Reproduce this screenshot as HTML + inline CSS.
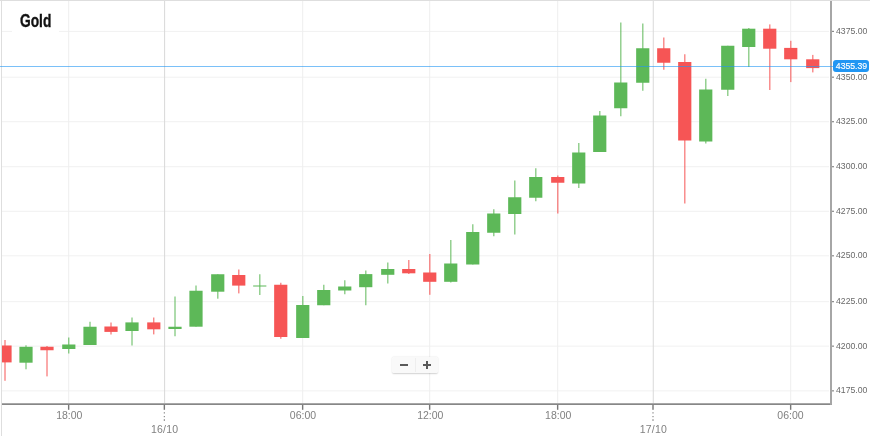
<!DOCTYPE html>
<html><head><meta charset="utf-8"><title>Gold</title>
<style>
html,body{margin:0;padding:0;background:#fff;}
body{width:874px;height:436px;position:relative;overflow:hidden;font-family:"Liberation Sans",sans-serif;}
#chart{position:absolute;left:0;top:0;width:874px;height:436px;}
.bt{position:absolute;left:0;top:0;width:870px;height:1px;background:#dedede;}
.bl{position:absolute;left:1px;top:0;width:1px;height:436px;background:#dedede;}
.ya{position:absolute;left:830px;top:1px;width:2px;height:404px;background:#a6a6a6;}
.xa{position:absolute;left:2px;top:403.4px;width:830px;height:1.6px;background:#7c7c7c;}
.yl{position:absolute;left:836px;width:36px;height:12px;line-height:12px;font-size:8.7px;color:#6a6a6a;white-space:nowrap;}
.yt{position:absolute;left:832px;width:2px;height:1.2px;background:#8a8a8a;}
.xl{position:absolute;width:40px;text-align:center;height:12px;line-height:12px;font-size:10.5px;color:#808080;white-space:nowrap;}
.xt{position:absolute;top:405px;width:1.4px;height:4.5px;background:#777;}
.xd{position:absolute;width:1.2px;background:#8c8c8c;}
.title{position:absolute;left:12px;top:8px;width:47px;height:25px;background:#fff;}
.title span{position:absolute;left:8px;top:2px;font-size:18px;line-height:22px;font-weight:bold;color:#111;-webkit-text-stroke:0.35px #111;transform-origin:0 0;transform:scaleX(0.765);white-space:nowrap;}
.pl{position:absolute;left:0;top:66px;width:834px;height:1px;background:rgba(33,150,243,0.6);}
.pb{position:absolute;left:833px;top:60px;width:36px;height:12.2px;border-radius:3px;background:#2196f3;color:#fff;font-size:8.7px;line-height:12px;text-indent:2.8px;white-space:nowrap;-webkit-text-stroke:0.15px #fff;}
.zb{position:absolute;left:392px;top:357px;width:46px;height:16px;border-radius:2px;background:rgba(248,248,248,0.9);box-shadow:0 0.5px 1.5px rgba(0,0,0,0.18);}
.zb i{position:absolute;background:#5a5a5a;}
</style></head><body>
<svg id="chart" width="874" height="436" viewBox="0 0 874 436">
<rect x="2" y="30.9" width="827" height="1" fill="#f1f1f1"/>
<rect x="2" y="76.7" width="827" height="1" fill="#f1f1f1"/>
<rect x="2" y="121.2" width="827" height="1" fill="#f1f1f1"/>
<rect x="2" y="166.2" width="827" height="1" fill="#f1f1f1"/>
<rect x="2" y="210.8" width="827" height="1" fill="#f1f1f1"/>
<rect x="2" y="255.3" width="827" height="1" fill="#f1f1f1"/>
<rect x="2" y="301.15" width="827" height="1" fill="#f1f1f1"/>
<rect x="2" y="345.65" width="827" height="1" fill="#f1f1f1"/>
<rect x="2" y="390.35" width="827" height="1" fill="#f1f1f1"/>
<rect x="68.2" y="1" width="1" height="402" fill="#eeeeee"/>
<rect x="302.2" y="1" width="1" height="402" fill="#eeeeee"/>
<rect x="429.2" y="1" width="1" height="402" fill="#eeeeee"/>
<rect x="557.2" y="1" width="1" height="402" fill="#eeeeee"/>
<rect x="790.2" y="1" width="1" height="402" fill="#eeeeee"/>
<rect x="164.1" y="1" width="1" height="402" fill="#d9d9d9"/>
<rect x="652.75" y="1" width="1" height="402" fill="#d9d9d9"/>
<line x1="5" y1="340" x2="5" y2="380.8" stroke="#f65555" stroke-width="1"/>
<rect x="2" y="345.5" width="9.6" height="16.9" fill="#f65555"/>
<line x1="26" y1="345.3" x2="26" y2="369.3" stroke="#5db858" stroke-width="1"/>
<rect x="19.4" y="346.8" width="13.2" height="15.9" fill="#5db858"/>
<line x1="47" y1="346" x2="47" y2="376.4" stroke="#f65555" stroke-width="1"/>
<rect x="40.4" y="346.75" width="13.2" height="3.5" fill="#f65555"/>
<line x1="68.8" y1="337.5" x2="68.8" y2="353.5" stroke="#5db858" stroke-width="1"/>
<rect x="62.2" y="344.5" width="13.2" height="4.5" fill="#5db858"/>
<line x1="90" y1="321.75" x2="90" y2="345" stroke="#5db858" stroke-width="1"/>
<rect x="83.4" y="326.75" width="13.2" height="18.25" fill="#5db858"/>
<line x1="111" y1="322.5" x2="111" y2="334.5" stroke="#f65555" stroke-width="1"/>
<rect x="104.4" y="326.5" width="13.2" height="5.4" fill="#f65555"/>
<line x1="132" y1="317.5" x2="132" y2="345.5" stroke="#5db858" stroke-width="1"/>
<rect x="125.4" y="322.4" width="13.2" height="8.6" fill="#5db858"/>
<line x1="153.8" y1="317.5" x2="153.8" y2="334.4" stroke="#f65555" stroke-width="1"/>
<rect x="147.2" y="322.4" width="13.2" height="6.9" fill="#f65555"/>
<line x1="175" y1="296.5" x2="175" y2="336.25" stroke="#5db858" stroke-width="1"/>
<rect x="168.4" y="326.75" width="13.2" height="2.25" fill="#5db858"/>
<line x1="196" y1="285.5" x2="196" y2="326.7" stroke="#5db858" stroke-width="1"/>
<rect x="189.4" y="290.75" width="13.2" height="35.95" fill="#5db858"/>
<line x1="217.85" y1="274.25" x2="217.85" y2="298.7" stroke="#5db858" stroke-width="1"/>
<rect x="211.15" y="274.25" width="13.2" height="17.45" fill="#5db858"/>
<line x1="238.85" y1="269.5" x2="238.85" y2="293.4" stroke="#f65555" stroke-width="1"/>
<rect x="232.15" y="275" width="13.2" height="10.6" fill="#f65555"/>
<line x1="259.85" y1="274.25" x2="259.85" y2="295" stroke="#5db858" stroke-width="1"/>
<rect x="253.15" y="285.5" width="13.2" height="1.0" fill="#5db858"/>
<line x1="280.85" y1="282.75" x2="280.85" y2="338.75" stroke="#f65555" stroke-width="1"/>
<rect x="274.15" y="284.75" width="13.2" height="52.25" fill="#f65555"/>
<line x1="302.85" y1="296" x2="302.85" y2="338" stroke="#5db858" stroke-width="1"/>
<rect x="296.15" y="305" width="13.2" height="33" fill="#5db858"/>
<line x1="323.85" y1="284.75" x2="323.85" y2="305.25" stroke="#5db858" stroke-width="1"/>
<rect x="317.15" y="290" width="13.2" height="15.25" fill="#5db858"/>
<line x1="344.85" y1="280.25" x2="344.85" y2="294.25" stroke="#5db858" stroke-width="1"/>
<rect x="338.15" y="286.5" width="13.2" height="4.0" fill="#5db858"/>
<line x1="365.85" y1="270.5" x2="365.85" y2="305.25" stroke="#5db858" stroke-width="1"/>
<rect x="359.15" y="274.1" width="13.2" height="13.1" fill="#5db858"/>
<line x1="387.85" y1="262.5" x2="387.85" y2="283.5" stroke="#5db858" stroke-width="1"/>
<rect x="381.15" y="269" width="13.2" height="5.8" fill="#5db858"/>
<line x1="408.85" y1="260" x2="408.85" y2="274" stroke="#f65555" stroke-width="1"/>
<rect x="402.15" y="269" width="13.2" height="4.3" fill="#f65555"/>
<line x1="429.85" y1="254" x2="429.85" y2="294.8" stroke="#f65555" stroke-width="1"/>
<rect x="423.15" y="272.5" width="13.2" height="9.3" fill="#f65555"/>
<line x1="450.85" y1="240" x2="450.85" y2="282.5" stroke="#5db858" stroke-width="1"/>
<rect x="444.15" y="263.5" width="13.2" height="18.3" fill="#5db858"/>
<line x1="472.85" y1="224.25" x2="472.85" y2="264.5" stroke="#5db858" stroke-width="1"/>
<rect x="466.15" y="232" width="13.2" height="32.5" fill="#5db858"/>
<line x1="493.85" y1="209.25" x2="493.85" y2="236.25" stroke="#5db858" stroke-width="1"/>
<rect x="487.15" y="213.5" width="13.2" height="19.25" fill="#5db858"/>
<line x1="514.85" y1="180.5" x2="514.85" y2="234.5" stroke="#5db858" stroke-width="1"/>
<rect x="508.15" y="197.25" width="13.2" height="16.75" fill="#5db858"/>
<line x1="535.85" y1="168.25" x2="535.85" y2="201.25" stroke="#5db858" stroke-width="1"/>
<rect x="529.15" y="177" width="13.2" height="20.75" fill="#5db858"/>
<line x1="557.85" y1="175.5" x2="557.85" y2="213.5" stroke="#f65555" stroke-width="1"/>
<rect x="551.15" y="177" width="13.2" height="5.75" fill="#f65555"/>
<line x1="578.85" y1="143" x2="578.85" y2="188" stroke="#5db858" stroke-width="1"/>
<rect x="572.15" y="152.5" width="13.2" height="31.0" fill="#5db858"/>
<line x1="599.85" y1="111" x2="599.85" y2="152" stroke="#5db858" stroke-width="1"/>
<rect x="593.15" y="115.5" width="13.2" height="36.5" fill="#5db858"/>
<line x1="620.85" y1="22.5" x2="620.85" y2="116.25" stroke="#5db858" stroke-width="1"/>
<rect x="614.15" y="82.5" width="13.2" height="25.75" fill="#5db858"/>
<line x1="642.85" y1="23.5" x2="642.85" y2="90.75" stroke="#5db858" stroke-width="1"/>
<rect x="636.15" y="48.25" width="13.2" height="34.5" fill="#5db858"/>
<line x1="663.85" y1="37.5" x2="663.85" y2="69.75" stroke="#f65555" stroke-width="1"/>
<rect x="657.15" y="48.25" width="13.2" height="14.5" fill="#f65555"/>
<line x1="684.85" y1="54.25" x2="684.85" y2="203.5" stroke="#f65555" stroke-width="1"/>
<rect x="678.15" y="62" width="13.2" height="78.5" fill="#f65555"/>
<line x1="705.85" y1="78.75" x2="705.85" y2="143.5" stroke="#5db858" stroke-width="1"/>
<rect x="699.15" y="89.5" width="13.2" height="52.0" fill="#5db858"/>
<line x1="727.85" y1="45.75" x2="727.85" y2="96" stroke="#5db858" stroke-width="1"/>
<rect x="721.15" y="45.75" width="13.2" height="44.0" fill="#5db858"/>
<line x1="748.85" y1="28" x2="748.85" y2="67" stroke="#5db858" stroke-width="1"/>
<rect x="742.15" y="28.7" width="13.2" height="18.3" fill="#5db858"/>
<line x1="769.85" y1="24.4" x2="769.85" y2="90" stroke="#f65555" stroke-width="1"/>
<rect x="763.15" y="28.7" width="13.2" height="20.0" fill="#f65555"/>
<line x1="790.85" y1="40.8" x2="790.85" y2="82.1" stroke="#f65555" stroke-width="1"/>
<rect x="784.15" y="47.9" width="13.2" height="11.4" fill="#f65555"/>
<line x1="812.85" y1="54.9" x2="812.85" y2="72.4" stroke="#f65555" stroke-width="1"/>
<rect x="806.15" y="59.3" width="13.2" height="8.8" fill="#f65555"/>
<rect x="2" y="403.35" width="830" height="1.55" fill="#7a7a7a"/>
<rect x="830" y="0.6" width="2" height="404.3" fill="#a6a6a6"/>
<rect x="832" y="30.8" width="2" height="1.2" fill="#8a8a8a"/>
<rect x="832" y="76.6" width="2" height="1.2" fill="#8a8a8a"/>
<rect x="832" y="121.1" width="2" height="1.2" fill="#8a8a8a"/>
<rect x="832" y="166.1" width="2" height="1.2" fill="#8a8a8a"/>
<rect x="832" y="210.7" width="2" height="1.2" fill="#8a8a8a"/>
<rect x="832" y="255.2" width="2" height="1.2" fill="#8a8a8a"/>
<rect x="832" y="301.05" width="2" height="1.2" fill="#8a8a8a"/>
<rect x="832" y="345.55" width="2" height="1.2" fill="#8a8a8a"/>
<rect x="832" y="390.25" width="2" height="1.2" fill="#8a8a8a"/>
<rect x="67.95" y="404.9" width="1.4" height="4.9" fill="#787878"/>
<rect x="301.95" y="404.9" width="1.4" height="4.9" fill="#787878"/>
<rect x="428.95" y="404.9" width="1.4" height="4.9" fill="#787878"/>
<rect x="556.95" y="404.9" width="1.4" height="4.9" fill="#787878"/>
<rect x="789.95" y="404.9" width="1.4" height="4.9" fill="#787878"/>
<rect x="163.65" y="404.9" width="1.4" height="4.9" fill="#787878"/>
<rect x="163.75" y="412.2" width="1.2" height="1.3" fill="#8c8c8c"/>
<rect x="163.75" y="416" width="1.2" height="1.2" fill="#8c8c8c"/>
<rect x="163.75" y="419.2" width="1.2" height="1.7" fill="#8c8c8c"/>
<rect x="652.3" y="404.9" width="1.4" height="4.9" fill="#787878"/>
<rect x="652.4" y="412.2" width="1.2" height="1.3" fill="#8c8c8c"/>
<rect x="652.4" y="416" width="1.2" height="1.2" fill="#8c8c8c"/>
<rect x="652.4" y="419.2" width="1.2" height="1.7" fill="#8c8c8c"/>
</svg>
<div id="ov" style="position:absolute;left:0;top:0;width:874px;height:436px;will-change:transform;"><div class="bt"></div><div class="bl"></div>
<div class="title"><span>Gold</span></div>

<div class="yl" style="top:24.6px">4375.00</div><div class="yl" style="top:70.6px">4350.00</div><div class="yl" style="top:114.6px">4325.00</div><div class="yl" style="top:159.6px">4300.00</div><div class="yl" style="top:204.6px">4275.00</div><div class="yl" style="top:248.6px">4250.00</div><div class="yl" style="top:294.6px">4225.00</div><div class="yl" style="top:339.6px">4200.00</div><div class="yl" style="top:383.6px">4175.00</div>
<div class="xl" style="left:49.3px;top:409px">18:00</div><div class="xl" style="left:283px;top:409px">06:00</div><div class="xl" style="left:410.3px;top:409px">12:00</div><div class="xl" style="left:538.2px;top:409px">18:00</div><div class="xl" style="left:770.5px;top:409px">06:00</div><div class="xl" style="left:144.6px;top:422.5px;letter-spacing:0.22px">16/10</div><div class="xl" style="left:633.4px;top:422.5px;letter-spacing:0.22px">17/10</div>
<div class="pl"></div><div class="pb">4355.39</div>
<div class="zb"><i style="left:7.7px;top:7px;width:8.5px;height:1.8px"></i><i style="left:30.8px;top:7px;width:8.3px;height:1.8px"></i><i style="left:34px;top:3.8px;width:1.9px;height:8.2px"></i><i style="left:23px;top:1px;width:1px;height:14px;background:#eee"></i></div>
</div></body></html>
